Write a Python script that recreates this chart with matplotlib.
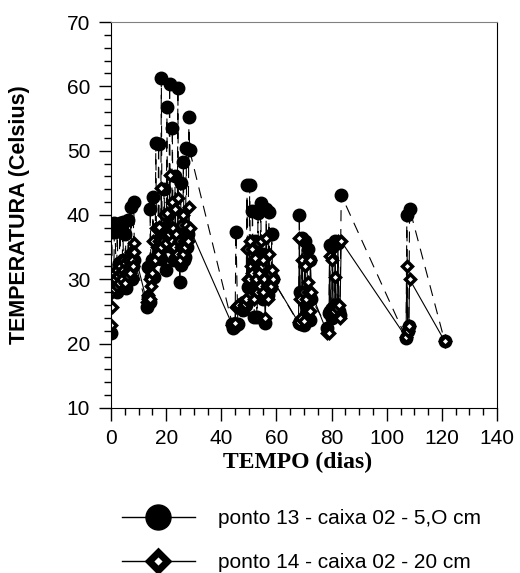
'''
    Temperatura x tempo, ponto 13 (5 cm) e ponto 14 (20 cm) da caixa 02.
'''
import numpy as np
import matplotlib
matplotlib.use('Agg')
import matplotlib.pyplot as plt
from matplotlib.lines import Line2D
from matplotlib.ticker import MultipleLocator

plt.rcParams['font.family'] = ['Liberation Sans', 'DejaVu Sans']

# leituras (dia, temperatura) - tres por dia: manha, tarde, noite
dias = [0, 1, 2, 3, 4, 5, 6, 7, 8,
        13, 14, 15, 16, 17, 18, 19, 20, 21, 22, 23, 24, 25, 26, 27, 28]
horas = [0.0, 0.25, 0.5]

p13_c1 = [[21.6, 37.3, 28.3], [30.2, 38.7, 37.3], [28.0, 38.5, 31.0],
          [32.5, 38.7, 30.0], [29.0, 38.9, 33.0], [30.2, 37.1, 28.6],
          [30.2, 39.2, 32.0], [32.5, 41.2, 30.0], [32.0, 42.0, 33.0],
          [25.7, 31.9, 27.2], [26.5, 40.9, 30.3], [33.0, 42.8, 30.3],
          [33.1, 51.2, 36.0], [34.0, 51.0, 38.0], [33.1, 61.3, 37.0],
          [35.0, 44.0, 38.0], [31.5, 56.8, 40.0], [36.0, 60.4, 38.0],
          [35.0, 53.5, 37.0], [33.0, 46.0, 36.0], [33.0, 59.7, 35.0],
          [29.6, 45.0, 32.2], [34.5, 48.2, 33.0], [33.5, 50.4, 35.0],
          [37.0, 55.2, 50.1]]
p14_c1 = [[22.9, 25.7, 28.0], [28.5, 31.0, 30.0], [29.0, 31.5, 30.5],
          [29.5, 32.0, 31.0], [30.0, 33.0, 31.5], [29.5, 32.5, 31.0],
          [30.5, 33.0, 32.0], [31.0, 34.2, 33.0], [32.0, 35.6, 34.2],
          [26.5, 27.5, 27.0], [27.0, 30.0, 29.0], [31.0, 36.0, 33.0],
          [33.0, 38.0, 35.0], [34.0, 38.1, 36.0], [35.0, 44.2, 37.0],
          [36.0, 40.0, 37.0], [35.6, 40.3, 37.0], [37.0, 46.2, 38.0],
          [36.0, 42.0, 38.0], [35.0, 41.0, 37.0], [34.0, 42.6, 36.0],
          [33.0, 38.4, 35.0], [34.0, 40.0, 36.0], [35.0, 38.4, 36.0],
          [36.0, 41.2, 38.0]]

# segunda fase (leituras esparsas)
t2 = [44.0, 44.3, 45.0, 45.3, 46.0,
      48.0, 48.3, 48.6, 49.0, 49.3, 49.6, 50.0, 50.3, 50.6, 51.0, 51.3, 51.6,
      52.0, 52.3, 52.6, 53.0, 53.3, 53.6, 54.0, 54.3, 54.6, 55.0, 55.3, 55.6,
      56.0, 56.3, 56.6, 57.0, 57.3, 57.6, 58.0, 58.3, 58.6,
      68.0, 68.3, 68.6, 69.0, 69.3, 69.6, 70.0, 70.3, 70.6, 71.0, 71.3, 71.6,
      72.0, 72.3, 72.6,
      78.5, 79.0, 79.3, 79.6, 80.0, 80.3, 80.6, 81.0, 81.3, 81.6, 82.0, 82.3,
      82.6, 83.0, 83.5,
      107.0, 107.3, 107.6, 108.0, 108.3, 121.0]
p13_2 = [23.0, 22.5, 22.8, 37.3, 23.0,
         25.2, 26.4, 26.0, 26.0, 44.6, 28.8, 28.8, 44.6, 30.0, 30.0, 40.6, 32.0,
         24.1, 36.0, 28.0, 24.1, 40.3, 28.0, 28.0, 41.9, 30.0, 27.0, 34.0, 31.0,
         23.2, 40.9, 29.0, 27.5, 40.5, 28.8, 28.8, 37.0, 30.0,
         23.2, 40.0, 28.0, 23.0, 36.4, 27.0, 22.9, 36.0, 26.0, 24.7, 34.7, 28.0,
         23.6, 33.0, 27.0,
         22.5, 24.7, 35.3, 25.0, 24.0, 35.0, 25.0, 24.5, 35.9, 25.0, 24.7, 35.6,
         25.0, 24.5, 43.1,
         20.9, 40.0, 22.0, 22.7, 41.0, 20.4]
p14_2 = [22.9, 23.0, 23.2, 25.7, 26.0,
         25.5, 26.0, 26.2, 27.0, 34.7, 30.0, 30.0, 36.0, 32.0, 31.0, 34.7, 33.0,
         27.0, 33.3, 30.0, 28.0, 35.6, 31.0, 29.0, 36.0, 32.0, 28.0, 33.0, 30.0,
         24.0, 36.4, 29.0, 27.0, 34.0, 31.0, 29.0, 31.4, 30.0,
         23.3, 36.4, 27.0, 24.0, 33.0, 28.0, 23.5, 32.0, 27.0, 25.0, 29.6, 28.0,
         25.0, 33.0, 28.0,
         21.6, 21.6, 33.6, 25.0, 25.0, 33.0, 26.0, 25.0, 30.3, 26.0, 25.5, 35.9,
         26.0, 24.0, 35.9,
         21.0, 32.0, 22.0, 22.7, 30.0, 20.4]

# junta tudo
t1 = [d + h for d in dias for h in horas]
tempo = np.array(t1 + t2)
temp13 = np.array([v for dia in p13_c1 for v in dia] + p13_2)
temp14 = np.array([v for dia in p14_c1 for v in dia] + p14_2)

fig = plt.figure(figsize=(5.2, 5.73), dpi=100)
ax = fig.add_axes([0.2135, 0.288, 0.7423, 0.6736])

ax.plot(tempo, temp13, color='black', lw=0.8, dashes=(10, 7),
        marker='o', ms=9, mfc='black', mec='black')
ax.plot(tempo, temp14, color='black', lw=0.8, ls='-',
        marker='D', ms=5, mfc='white', mec='black', mew=2.5)

ax.set_xlim(0, 140)
ax.set_ylim(10, 70)
ax.xaxis.set_major_locator(MultipleLocator(20))
ax.xaxis.set_minor_locator(MultipleLocator(5))
ax.yaxis.set_major_locator(MultipleLocator(10))
ax.yaxis.set_minor_locator(MultipleLocator(2))
ax.tick_params(which='major', direction='out', length=9, width=1,
               labelsize=15, pad=6)
ax.tick_params(which='minor', direction='out', length=5, width=1)
ax.spines['top'].set_color('0.5')

ax.set_xlabel('TEMPO (dias)', family='Liberation Serif', fontweight='bold',
              fontsize=17)
ax.xaxis.set_label_coords(0.484, -0.115)
ax.set_ylabel('TEMPERATURA (Celsius)', fontweight='bold', fontsize=15.5)
ax.yaxis.set_label_coords(-0.21, 0.5)

h13 = Line2D([], [], color='black', lw=1, marker='o', ms=18,
             mfc='black', mec='black')
h14 = Line2D([], [], color='black', lw=1, marker='D', ms=9.5,
             mfc='white', mec='black', mew=5)
fig.legend([h13, h14],
           ['ponto 13 - caixa 02 - 5,O cm', 'ponto 14 - caixa 02 - 20 cm'],
           loc='upper left', bbox_to_anchor=(122 / 520, 1 - 509 / 573),
           frameon=False, fontsize=15, handlelength=3.5, handletextpad=1.1,
           labelspacing=1.2, borderpad=0, borderaxespad=0)

plt.savefig('out.png')
